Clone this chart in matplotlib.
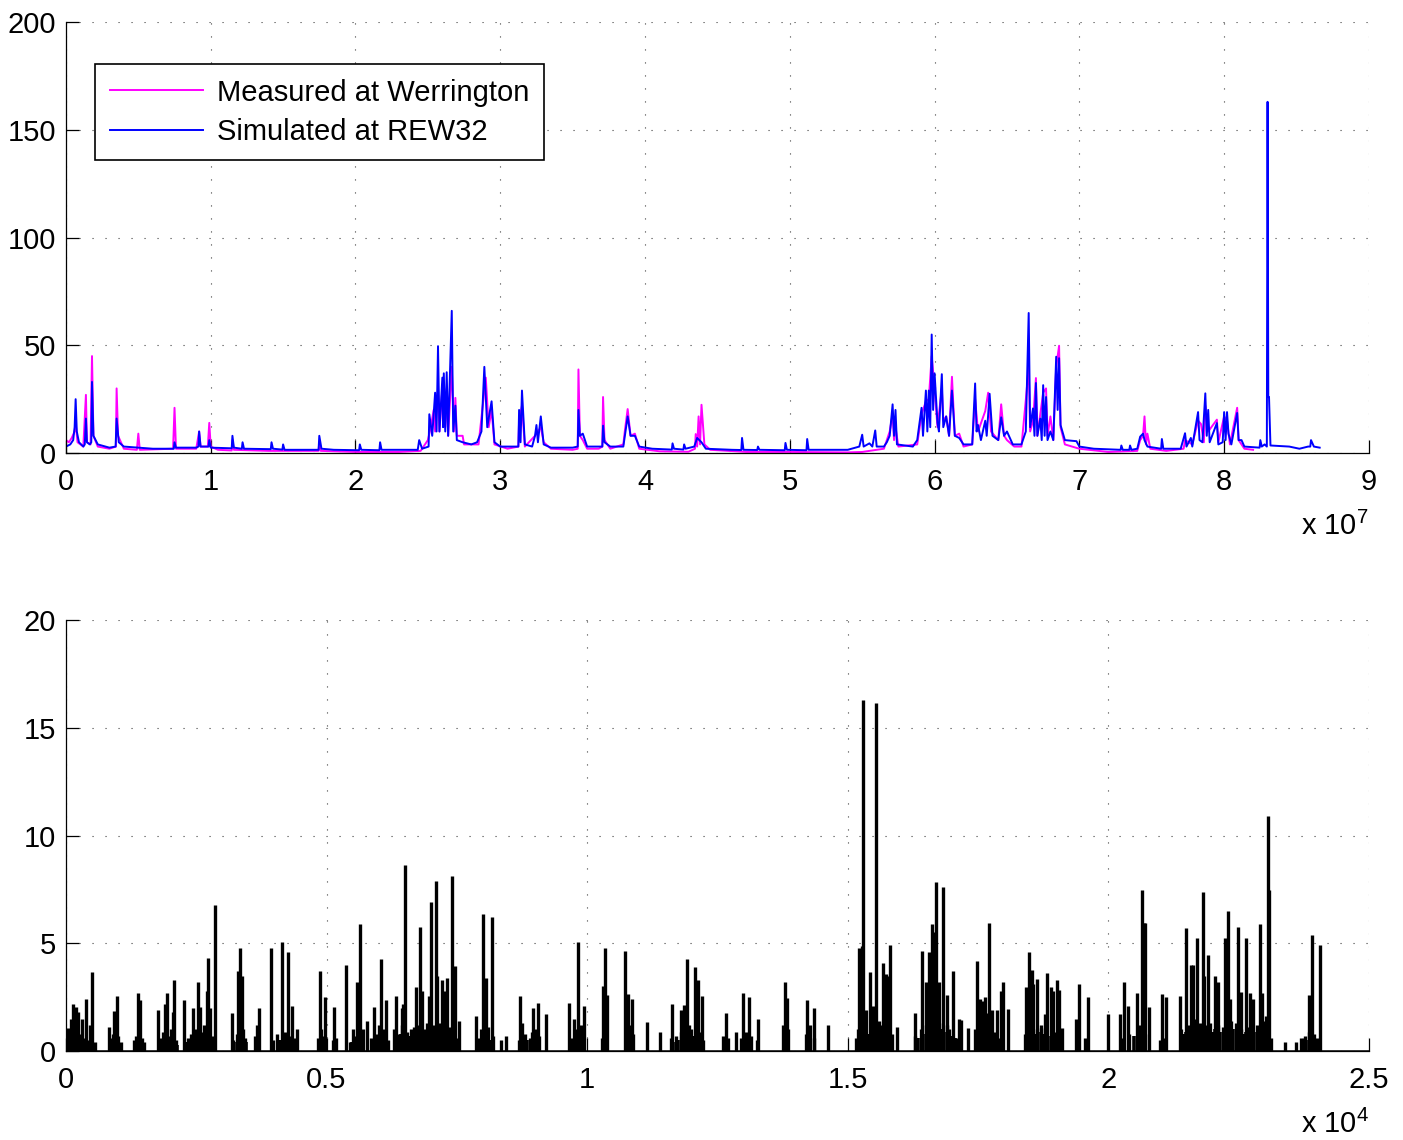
import numpy as np
import matplotlib
matplotlib.use('Agg')
import matplotlib.pyplot as plt
from matplotlib.ticker import FuncFormatter

plt.rcParams['font.family'] = ['Liberation Sans', 'DejaVu Sans']
plt.rcParams['mathtext.fontset'] = 'custom'
plt.rcParams['mathtext.rm'] = 'Liberation Sans'

# top panel: discharge, time in units of 1e7 s
meas_pts = [
    (0.00, 6), (0.02, 5), (0.04, 7), (0.06, 10), (0.067, 14), (0.08, 5), (0.12, 3), (0.138, 27),
    (0.145, 5), (0.17, 4), (0.18, 45), (0.19, 8), (0.22, 3), (0.30, 2), (0.345, 3), (0.35, 30),
    (0.36, 8), (0.40, 2), (0.49, 1.5), (0.50, 9), (0.51, 1.5), (0.74, 2), (0.75, 21), (0.76, 2),
    (0.90, 2), (0.92, 10), (0.93, 3), (0.98, 3), (0.99, 14), (1.00, 3), (1.05, 1.5), (1.145, 1.2),
    (1.15, 6), (1.16, 1.5), (1.40, 1), (1.745, 1), (1.75, 5), (1.76, 1), (2.00, 0.5), (2.30, 0.5),
    (2.45, 1), (2.50, 6), (2.52, 12), (2.54, 20), (2.55, 10), (2.57, 30), (2.58, 10), (2.60, 30),
    (2.62, 12), (2.63, 30), (2.64, 8), (2.665, 40), (2.68, 10), (2.69, 25.6), (2.70, 8), (2.74, 8),
    (2.75, 4), (2.85, 4), (2.90, 35), (2.92, 12), (2.94, 20), (2.96, 4), (3.05, 2), (3.125, 3),
    (3.13, 15), (3.15, 22), (3.17, 3), (3.24, 8), (3.26, 10), (3.28, 12), (3.30, 5), (3.35, 2),
    (3.50, 1.5), (3.535, 2), (3.54, 38.8), (3.55, 8), (3.57, 6), (3.60, 2), (3.68, 2), (3.705, 3),
    (3.71, 26), (3.72, 6), (3.76, 2), (3.85, 4), (3.86, 10), (3.88, 20.4), (3.90, 8), (3.93, 9),
    (3.96, 2), (4.10, 0.8), (4.30, 0.6), (4.345, 2), (4.35, 8.8), (4.36, 3), (4.37, 17), (4.38, 4),
    (4.39, 22.4), (4.41, 4), (4.45, 1.5), (4.70, 0.5), (5.00, 0.5), (5.40, 0.3), (5.50, 0.5),
    (5.65, 2), (5.69, 10), (5.71, 18), (5.72, 6), (5.73, 12), (5.75, 3), (5.88, 4), (5.91, 18),
    (5.94, 24), (5.96, 25), (5.98, 45), (6.00, 30), (6.02, 12), (6.05, 30), (6.06, 15), (6.08, 17),
    (6.10, 8), (6.12, 35.4), (6.14, 8), (6.17, 9), (6.20, 3), (6.26, 4), (6.28, 25), (6.30, 10),
    (6.35, 19.5), (6.37, 28), (6.39, 10), (6.44, 6), (6.46, 22.6), (6.48, 8), (6.50, 6), (6.55, 3),
    (6.60, 3), (6.63, 24.6), (6.65, 40), (6.66, 10), (6.68, 15), (6.70, 34.8), (6.71, 8), (6.75, 28),
    (6.77, 30), (6.78, 8), (6.80, 17), (6.82, 6), (6.84, 40), (6.86, 49.8), (6.87, 12), (6.90, 4),
    (7.00, 2), (7.20, 0.5), (7.40, 1), (7.42, 6), (7.44, 8), (7.45, 17), (7.46, 4), (7.47, 9),
    (7.49, 2), (7.60, 1), (7.72, 2), (7.73, 6), (7.78, 4), (7.82, 15), (7.84, 13.5), (7.86, 5),
    (7.87, 22), (7.89, 10), (7.95, 15.5), (7.96, 5), (8.00, 17), (8.02, 15), (8.04, 4), (8.09, 21),
    (8.10, 6), (8.14, 2), (8.20, 1.5),
]

sim_pts = [
    (0.00, 3), (0.03, 4), (0.05, 6), (0.06, 12), (0.067, 25), (0.075, 10), (0.09, 5), (0.12, 3),
    (0.13, 4), (0.138, 16), (0.145, 5), (0.165, 4), (0.175, 5), (0.18, 33), (0.19, 8), (0.22, 4),
    (0.30, 2.5), (0.343, 3), (0.35, 16), (0.365, 5), (0.40, 3), (0.50, 2.5), (0.60, 2), (0.745, 2),
    (0.75, 5), (0.76, 2.5), (0.90, 2.5), (0.915, 3), (0.92, 10), (0.93, 3), (0.96, 3), (0.985, 3),
    (0.99, 6), (1.00, 2.5), (1.145, 2.2), (1.15, 8), (1.16, 2.5), (1.215, 2), (1.22, 5), (1.23, 2),
    (1.415, 1.8), (1.42, 5), (1.43, 2), (1.495, 1.6), (1.50, 4), (1.51, 1.5), (1.745, 1.5),
    (1.75, 8), (1.765, 2), (1.85, 1.5), (2.025, 1.3), (2.03, 4), (2.04, 1.5), (2.165, 1.3),
    (2.17, 5), (2.18, 1.5), (2.30, 1.5), (2.43, 1.5), (2.44, 6), (2.46, 2), (2.505, 3), (2.51, 18),
    (2.53, 8), (2.55, 28), (2.56, 10), (2.57, 49.6), (2.58, 10), (2.60, 35), (2.605, 12), (2.61, 37),
    (2.62, 10), (2.63, 37.5), (2.64, 8), (2.665, 66), (2.675, 10), (2.69, 22), (2.70, 6), (2.74, 5),
    (2.80, 4), (2.84, 5), (2.87, 10), (2.89, 40), (2.91, 12), (2.94, 24), (2.96, 5), (3.00, 3),
    (3.10, 3), (3.125, 3), (3.13, 20), (3.14, 5), (3.15, 29), (3.17, 4), (3.22, 3), (3.24, 8),
    (3.25, 13), (3.26, 5), (3.28, 17), (3.30, 4), (3.35, 2.5), (3.50, 2.5), (3.535, 3), (3.54, 20),
    (3.55, 8), (3.57, 9), (3.60, 3), (3.68, 3), (3.705, 3), (3.71, 12.7), (3.72, 5), (3.76, 3),
    (3.85, 3), (3.88, 17), (3.90, 8), (3.93, 8), (3.96, 3), (4.05, 2), (4.185, 1.6), (4.19, 4.5),
    (4.20, 2), (4.265, 1.6), (4.27, 4), (4.28, 2), (4.34, 3), (4.36, 7), (4.39, 5), (4.42, 2),
    (4.60, 1.5), (4.665, 1.4), (4.67, 7), (4.68, 1.5), (4.775, 1.4), (4.78, 3), (4.79, 1.5),
    (4.965, 1.3), (4.97, 4.7), (4.98, 1.5), (5.115, 1.3), (5.12, 6.5), (5.13, 1.5), (5.40, 1.5),
    (5.48, 3), (5.50, 8.5), (5.51, 3), (5.55, 4.5), (5.57, 3), (5.59, 10.5), (5.60, 3), (5.65, 3),
    (5.67, 5), (5.69, 8), (5.71, 22.6), (5.72, 8), (5.73, 20), (5.74, 4), (5.85, 3), (5.88, 6),
    (5.91, 21), (5.92, 8), (5.94, 29), (5.95, 10), (5.96, 29), (5.97, 12), (5.98, 55), (5.99, 20),
    (6.00, 37), (6.02, 14), (6.03, 10), (6.05, 36.6), (6.06, 12), (6.08, 17), (6.10, 8), (6.12, 29),
    (6.14, 8), (6.17, 7), (6.20, 4), (6.26, 4), (6.28, 32.3), (6.29, 10), (6.30, 13), (6.32, 6),
    (6.35, 15), (6.36, 8), (6.38, 27.5), (6.40, 8), (6.44, 6), (6.46, 16.6), (6.48, 8), (6.50, 10),
    (6.54, 4), (6.60, 4), (6.63, 10), (6.65, 65), (6.66, 12), (6.68, 20.7), (6.69, 8), (6.70, 32.5),
    (6.71, 8), (6.73, 16), (6.74, 6), (6.75, 31.5), (6.76, 8), (6.77, 26), (6.78, 6), (6.80, 10),
    (6.82, 6), (6.84, 44.7), (6.85, 20), (6.86, 44), (6.87, 13), (6.90, 6), (6.98, 5.5), (7.00, 3),
    (7.10, 2), (7.285, 1.5), (7.29, 3.5), (7.30, 1.5), (7.345, 1.5), (7.35, 3.5), (7.36, 1.5),
    (7.40, 2), (7.42, 7.6), (7.44, 9), (7.45, 6), (7.47, 3), (7.565, 2), (7.57, 6.5), (7.58, 2),
    (7.70, 2), (7.73, 9.2), (7.74, 3), (7.77, 7), (7.78, 3), (7.82, 19), (7.83, 6), (7.85, 5),
    (7.87, 27.7), (7.88, 8), (7.89, 20), (7.90, 5), (7.95, 13.9), (7.96, 4), (7.99, 5), (8.00, 19),
    (8.01, 6), (8.02, 19), (8.03, 9), (8.05, 4), (8.09, 18.6), (8.10, 6), (8.12, 6), (8.14, 3),
    (8.245, 2.5), (8.25, 6), (8.26, 3), (8.28, 4), (8.295, 3), (8.30, 163), (8.305, 26), (8.31, 26),
    (8.32, 3.5), (8.45, 3), (8.52, 2), (8.58, 3), (8.595, 3), (8.60, 6), (8.62, 3), (8.66, 2.5),
]

# bottom panel: rainfall spikes (time step index, value)
rain_t = [
    13, 45, 90, 141, 186, 224, 301, 384, 461, 499, 825, 921, 979, 1375, 1420, 1759, 1900, 1945,
    2047, 2079, 2265, 2444, 2540, 2572, 2700, 2719, 2764, 2853, 3179, 3307, 3346, 3371, 3659, 3710,
    3928, 4152, 4261, 4331, 4427, 4875, 4971, 5143, 5367, 5502, 5578, 5642, 5706, 5783, 5905, 6007,
    6039, 6141, 6327, 6442, 6474, 6506, 6717, 6794, 6826, 6935, 6973, 6999, 7095, 7114, 7222, 7255,
    7306, 7401, 7465, 7542, 7862, 7997, 8028, 8060, 8169, 8348, 8438, 8713, 8758, 8968, 9051, 9211,
    9652, 9748, 9831, 9940, 10311, 10343, 10390, 10727, 10778, 10855, 11143, 11399, 11623, 11802,
    11859, 11911, 12070, 12134, 12198, 12659, 12850, 12985, 13113, 13273, 13798, 13830, 14226, 14354,
    14620, 15218, 15269, 15294, 15360, 15429, 15480, 15544, 15685, 15730, 15770, 15813, 15950, 16292,
    16427, 16500, 16568, 16619, 16660, 16695, 16760, 16836, 16900, 17015, 17140, 17180, 17300, 17476,
    17540, 17600, 17636, 17680, 17719, 17760, 17870, 17943, 17988, 18080, 18416, 18480, 18532, 18560,
    18640, 18710, 18780, 18826, 18896, 18935, 19024, 19060, 19120, 19380, 19440, 19606, 20000, 20227,
    20303, 20380, 20547, 20649, 20680, 20700, 20785, 21033, 21100, 21366, 21493, 21589, 21620, 21711,
    21813, 21840, 21916, 22056, 22110, 22242, 22299, 22330, 22485, 22540, 22638, 22722, 22770, 22913,
    22945, 23020, 23073, 23090, 23390, 23690, 23780, 23841, 23905, 23940, 24065,
    30, 60, 110, 160, 200, 260, 330, 420, 560, 850, 900, 950, 1000, 1050, 1300, 1350, 1450, 1500,
    1820, 1870, 1990, 2020, 2110, 2350, 2400, 2480, 2600, 2650, 2740, 2800, 3200, 3280, 3330, 3400,
    3430, 3620, 3680, 3980, 4050, 4200, 4300, 4380, 4830, 4900, 4950, 5120, 5180, 5450, 5520, 5600,
    5680, 5860, 5950, 6080, 6180, 6300, 6380, 6450, 6550, 6620, 6680, 6750, 6870, 6920, 7050, 7150,
    7200, 7350, 7450, 7520, 7920, 7960, 8100, 8200, 8700, 8800, 8900, 8950, 9000, 9080, 9700, 9800,
    9880, 9920, 10280, 10360, 10750, 10820, 10880, 11600, 11700, 11800, 11950, 12000, 12100, 12150,
    12230, 12600, 12700, 12950, 13050, 13150, 13250, 13750, 13850, 14200, 14280, 14350, 15150, 15200,
    15350, 15450, 15600, 15650, 15750, 15850, 16300, 16400, 16500, 16650, 16750, 16900, 16950, 17100,
    17450, 17550, 17650, 17800, 17900, 18400, 18550, 18700, 18800, 18950, 19050, 19420, 19560, 20250,
    20400, 20600, 20700, 21000, 21080, 21400, 21550, 21650, 21750, 21850, 21950, 22100, 22200, 22350,
    22450, 22550, 22700, 22850, 23000, 23120, 23600, 23750, 23850, 24000,
]
rain_v = [
    0.4, 1.06, 1.5, 2.2, 2.05, 1.8, 1.5, 2.4, 1.2, 3.67, 1.1, 1.85, 2.55, 2.68, 2.35, 1.9, 2.2, 2.7,
    1.8, 3.28, 2.35, 2.0, 3.2, 2.05, 2.8, 4.3, 2.0, 6.79, 1.75, 3.73, 4.76, 3.5, 1.2, 2.0,
    4.76, 5.04, 4.6, 2.1, 1.0, 3.73, 2.5, 2.05, 4.0, 1.0, 3.2, 5.88, 1.0, 1.4, 2.05, 1.2,
    4.25, 2.35, 2.55, 2.0, 2.2, 8.62, 2.95, 5.75, 2.8, 1.3, 2.55, 6.93, 7.9, 3.5, 3.3, 2.8,
    3.4, 8.1, 3.94, 1.4, 1.6, 6.34, 3.0, 3.4, 6.2, 0.5, 0.7, 2.55, 1.3, 1.98, 2.24, 1.7,
    2.24, 1.5, 5.04, 2.1, 3.0, 4.8, 2.6, 4.64, 2.63, 2.4, 1.35, 0.9, 2.2, 1.9,
    2.15, 4.27, 3.88, 3.3, 2.55, 1.78, 0.9, 2.7, 2.5, 1.5, 3.22, 2.45, 2.37, 2.0,
    1.2, 4.8, 4.85, 16.29, 1.9, 3.65, 2.1, 16.16, 4.1, 3.55, 3.5, 4.92, 1.1, 1.78,
    4.64, 3.2, 4.58, 5.88, 5.5, 7.84, 3.2, 7.6, 2.6, 3.7, 1.5, 1.45, 1.05, 4.17,
    2.41, 2.3, 2.5, 1.75, 5.96, 1.9, 1.9, 2.77, 3.2, 1.95, 2.96, 4.58, 3.76, 3.1,
    3.35, 1.05, 1.7, 3.6, 2.96, 2.8, 3.3, 2.85, 1.05, 1.47, 3.1, 2.5, 1.7, 1.7,
    3.2, 2.1, 2.7, 7.47, 5.96, 5.96, 2.05, 2.64, 2.5, 2.56, 5.72, 4.0, 4.0, 5.26,
    7.39, 3.5, 4.46, 3.47, 3.2, 5.26, 6.5, 2.4, 5.77, 2.75, 5.26, 2.7, 2.4, 5.9,
    2.7, 1.6, 10.9, 7.47, 0.4, 0.6, 0.7, 2.6, 5.38, 0.8, 4.9,
    0.8, 1.0, 0.7, 1.2, 0.9, 0.8, 0.6, 0.5, 0.4, 0.6, 0.8, 0.5, 0.7, 0.4, 0.5, 0.7, 0.6, 0.4,
    0.6, 0.9, 0.7, 1.0, 0.5, 0.6, 0.8, 1.0, 0.9, 1.2, 1.0, 0.7, 0.5, 0.8, 1.2, 1.0,
    0.6, 0.7, 0.9, 0.5, 0.8, 0.9, 0.7, 0.6, 0.6, 1.0, 0.7, 0.5, 0.6, 0.4, 0.7, 1.0,
    0.8, 0.6, 0.8, 1.0, 0.5, 1.0, 0.8, 1.2, 0.9, 1.0, 1.1, 1.2, 1.0, 0.9, 1.2, 1.3,
    1.0, 1.1, 0.8, 0.6, 0.6, 1.0, 1.1, 0.7, 0.5, 0.8, 0.6, 0.9, 1.0, 0.7, 0.6, 1.0,
    1.2, 0.8, 0.6, 1.0, 1.0, 1.2, 0.8, 0.6, 0.7, 0.9, 1.2, 1.0, 1.1, 0.9,
    0.5, 0.7, 0.6, 0.6, 0.9, 0.7, 0.5, 1.2, 1.0, 0.8, 1.2, 0.6, 0.6, 1.0,
    0.8, 1.2, 1.4, 1.2, 1.0, 0.8, 0.7, 1.0, 1.2, 1.4, 1.3, 1.2, 1.0, 0.6,
    1.0, 1.3, 1.2, 0.9, 0.6, 0.8, 1.0, 1.2, 1.0, 0.9, 0.7, 0.5, 0.6, 0.6,
    0.8, 1.2, 0.8, 0.5, 0.6, 1.0, 1.2, 1.5, 1.3, 1.2, 1.3, 1.2, 1.1, 1.4,
    1.3, 1.0, 1.1, 1.2, 1.4, 0.6, 0.4, 0.6, 0.9, 0.6,
]

# low drizzle between the storm spikes
rain_low_t = [
    20, 75, 125, 175, 240, 290, 360, 480, 520, 870,
    930, 1020, 1320, 1400, 1840, 1920, 2000, 2140, 2300, 2380,
    2450, 2520, 2620, 2680, 2780, 3220, 3300, 3360, 3450, 3640,
    3960, 4100, 4230, 4350, 4850, 4920, 5150, 5480, 5560, 5650,
    5880, 5980, 6100, 6350, 6420, 6500, 6580, 6650, 6720, 6780,
    6850, 6900, 7000, 7080, 7180, 7250, 7300, 7380, 7480, 7940,
    8050, 8150, 8750, 8850, 9030, 9720, 9850, 10300, 10800, 11650,
    11750, 11850, 12050, 12180, 12620, 12980, 13100, 13800, 14250, 15180,
    15250, 15400, 15500, 15550, 15700, 15800, 16350, 16450, 16550, 16600,
    16700, 16800, 16850, 17000, 17050, 17500, 17580, 17700, 17850, 18450,
    18600, 18650, 18750, 18850, 19000, 20300, 20500, 20620, 21450, 21500,
    21600, 21700, 21800, 21900, 22000, 22050, 22150, 22250, 22300, 22400,
    22500, 22600, 22650, 22750, 22800, 22900, 22950, 23050, 23800, 23900,
]
rain_low_v = [
    0.5, 0.7, 0.4, 0.8, 0.6, 0.5, 0.4, 0.3, 0.3, 0.4,
    0.5, 0.3, 0.4, 0.3, 0.5, 0.6, 0.4, 0.3, 0.4, 0.5,
    0.6, 0.7, 0.8, 0.6, 0.5, 0.4, 0.6, 0.7, 0.4, 0.5,
    0.3, 0.5, 0.6, 0.4, 0.5, 0.6, 0.3, 0.4, 0.5, 0.6,
    0.4, 0.5, 0.6, 0.7, 0.8, 0.6, 0.7, 0.8, 0.7, 0.9,
    0.8, 0.7, 0.9, 0.8, 0.9, 0.7, 0.8, 0.6, 0.5, 0.5,
    0.6, 0.5, 0.4, 0.5, 0.6, 0.5, 0.7, 0.5, 0.8, 0.4,
    0.5, 0.6, 0.7, 0.6, 0.4, 0.5, 0.6, 0.7, 0.6, 0.5,
    0.7, 0.8, 0.9, 1.0, 0.8, 0.7, 0.6, 0.8, 0.9, 1.0,
    0.9, 1.0, 0.9, 0.7, 0.6, 0.8, 0.9, 0.8, 0.6, 0.7,
    0.8, 0.9, 0.8, 0.7, 0.6, 0.5, 0.7, 0.9, 0.8, 0.9,
    1.0, 1.1, 0.9, 1.0, 0.9, 1.0, 0.9, 1.0, 1.1, 1.0,
    0.9, 0.8, 0.9, 1.0, 0.9, 1.0, 0.9, 1.1, 0.5, 0.6,
]

meas_t, meas_q = np.array(meas_pts).T
sim_t, sim_q = np.array(sim_pts).T

fig = plt.figure(figsize=(14.03, 11.4), dpi=100)
ax1 = fig.add_axes([0.047, 0.6026, 0.9287, 0.378])
ax2 = fig.add_axes([0.047, 0.0781, 0.9287, 0.378])

ax1.plot(meas_t * 1e7, meas_q, color='#ff00ff', lw=1.4, label='Measured at Werrington')
ax1.plot(sim_t * 1e7, sim_q, color='#0000ff', lw=1.4, label='Simulated at REW32')
ax1.set_xlim(0, 9e7)
ax1.set_ylim(0, 200)
ax1.set_xticks(np.arange(0, 10) * 1e7)
ax1.set_yticks([0, 50, 100, 150, 200])
ax1.xaxis.set_major_formatter(FuncFormatter(lambda v, p: f'{v / 1e7:g}'))

ax2.vlines(rain_low_t, 0, rain_low_v, color='black', lw=2.6)
ax2.vlines(rain_t, 0, rain_v, color='black', lw=2.4)
ax2.plot([0, 25000], [0, 0], color='black', lw=1.8)
ax2.set_xlim(0, 25000)
ax2.set_ylim(0, 20)
ax2.set_xticks([0, 5000, 10000, 15000, 20000, 25000])
ax2.set_yticks([0, 5, 10, 15, 20])
ax2.xaxis.set_major_formatter(FuncFormatter(lambda v, p: f'{v / 1e4:g}'))

for ax in (ax1, ax2):
    for s in ('top', 'right'):
        ax.spines[s].set_visible(False)
    for s in ('left', 'bottom'):
        ax.spines[s].set_linewidth(0.9)
    ax.tick_params(direction='in', length=9.4, width=0.9, labelsize=21)
    ax.tick_params(axis='x', pad=11)
    ax.tick_params(axis='y', pad=7)
    ax.grid(True, color='0.25', lw=0.8, linestyle=(0, (1, 10.7)))
    ax.set_axisbelow(True)

leg = ax1.legend(loc='upper left', bbox_to_anchor=(0.0223, 0.9026), borderaxespad=0,
                 fontsize=21, frameon=True, fancybox=False, edgecolor='black',
                 framealpha=1, handlelength=3.2, handletextpad=0.5,
                 labelspacing=0.38, borderpad=0.5)
leg.get_frame().set_linewidth(1.2)

fig.text(1369 / 1403, 1 - 535 / 1140, r'x 10$^{7}$', ha='right', va='baseline', fontsize=21)
fig.text(1369 / 1403, 1 - 1133 / 1140, r'x 10$^{4}$', ha='right', va='baseline', fontsize=21)

fig.savefig('out.png', dpi=100)
